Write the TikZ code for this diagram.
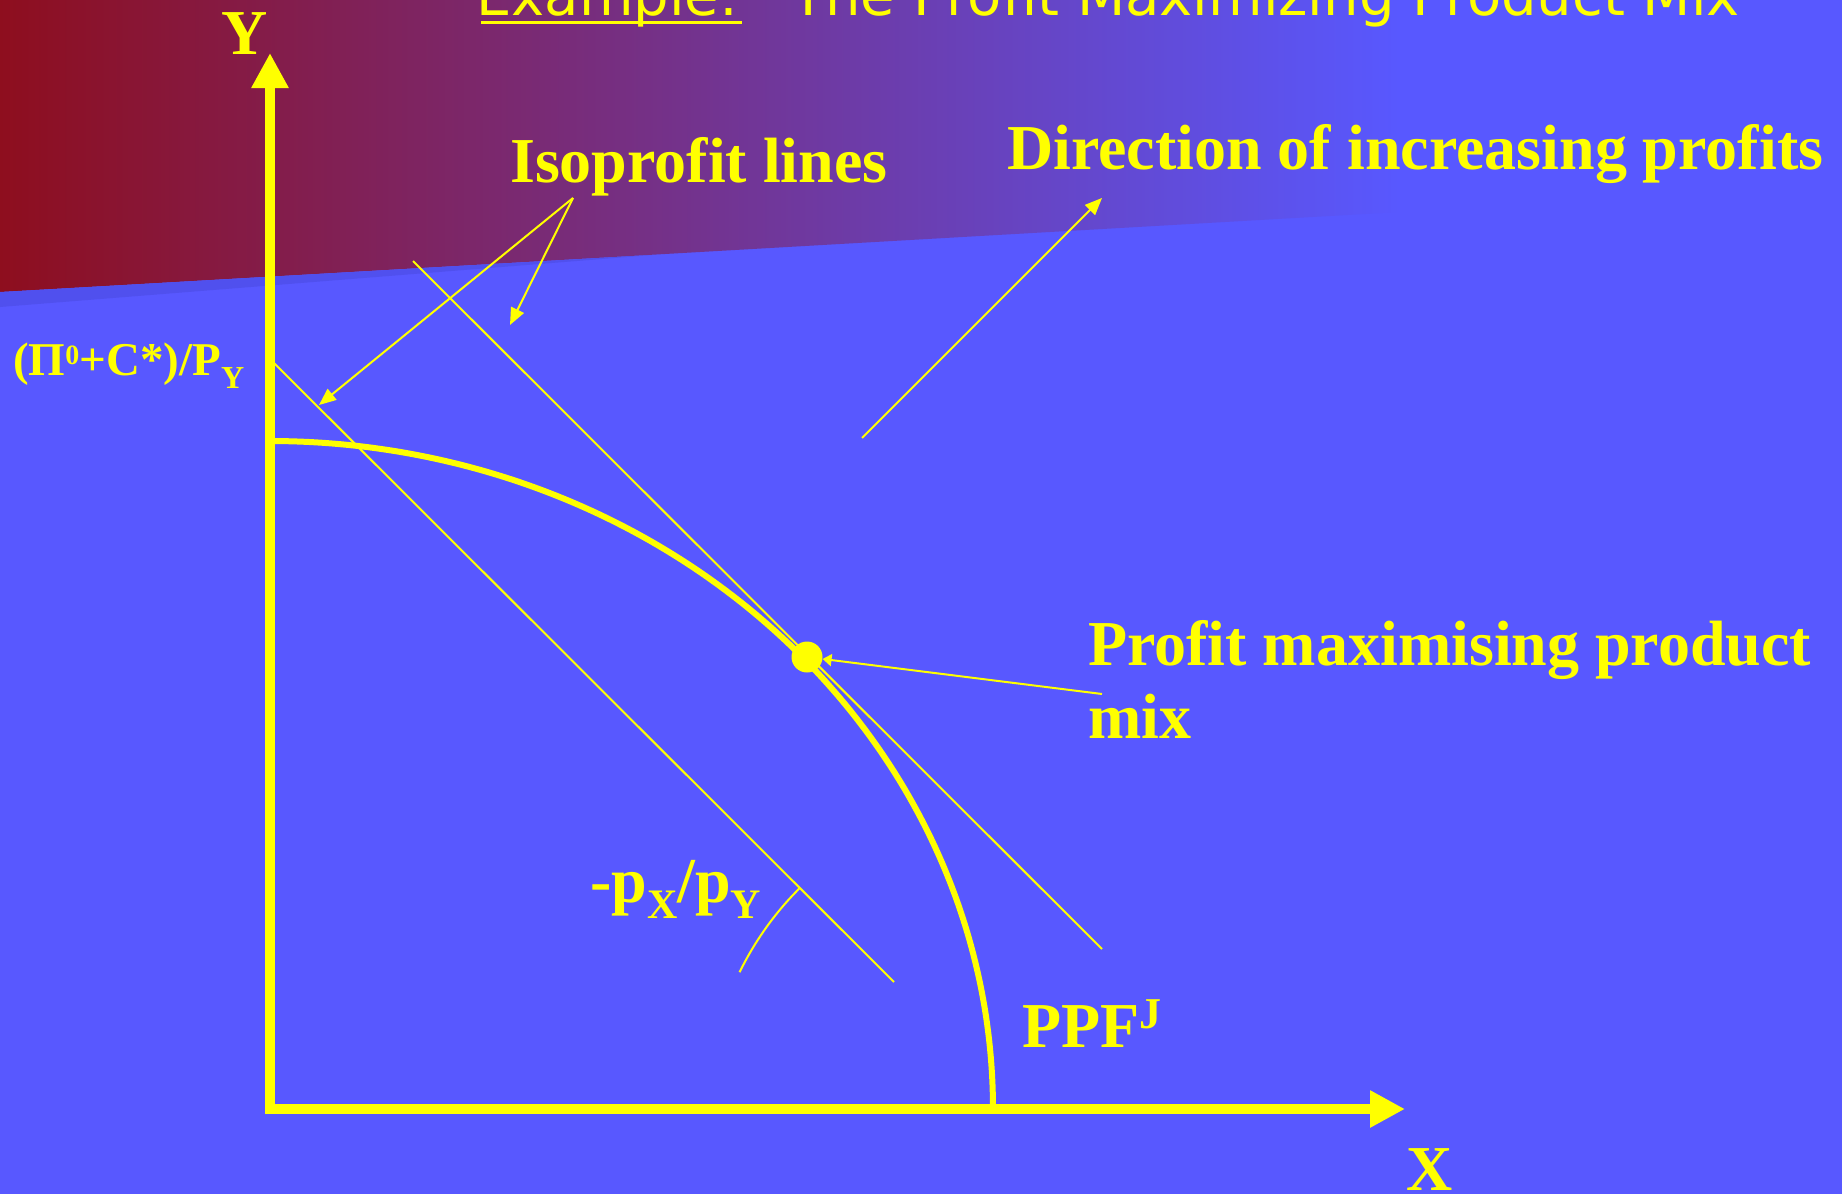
\documentclass[tikz,border=0pt]{standalone}
\usepackage{fontspec}
\setmainfont{Liberation Serif}
\newfontfamily\titlefont{DejaVu Sans}
\usepackage{xcolor}
\usepackage{tikz}
\usetikzlibrary{arrows.meta}

\definecolor{slideblue}{RGB}{88,88,255}
\definecolor{slidered}{RGB}{142,14,30}
\definecolor{slidepurple}{RGB}{125,58,165}
\definecolor{shadowblue}{RGB}{80,80,238}
\definecolor{ylw}{RGB}{255,255,0}

\begin{document}
\begin{tikzpicture}[
x=1pt, y=-1pt,
lbl/.style={text=ylw, inner sep=0pt, anchor=base west, font=\bfseries\fontsize{64pt}{73pt}\selectfont},
thin/.style={draw=ylw, line width=2pt},
arr/.style={thin, -{Triangle[length=17pt,width=14pt]}},
axis/.style={draw=ylw, line width=10pt, arrows={Triangle[length=35pt,width=35pt]-Triangle[length=35pt,width=35pt]}}
]
\useasboundingbox (0,0) rectangle (1842,1194);
\clip (0,0) rectangle (1842,1194);
\fill[slideblue] (0,0) rectangle (1842,1194);
\shade[left color=slidered, middle color=slidepurple, right color=slideblue] (0,0) -- (1400,0) -- (1400,212) -- (0,292) -- cycle;
\fill[shadowblue] (0,292) -- (652,255) -- (0,307) -- cycle;

\node[anchor=base west, inner sep=0pt, text=ylw, font=\titlefont\fontsize{56pt}{56pt}\selectfont] (title) at (476,15)
  {\rlap{\hspace{5pt}\rule[-8.5pt]{261pt}{2.6pt}}Example:\hspace{0.95em}The Profit Maximizing Product Mix};

% axes
\coordinate (origin) at (270,1109);
\coordinate (ytip) at (270,53);
\coordinate (xtip) at (1405,1109);
\draw[axis] (ytip) -- (origin) -- (xtip);
\node[lbl, anchor=base] (ylab) at (245,54) {Y};
\node[lbl, anchor=base] (xlab) at (1430,1190) {X};

% frontier
\draw[ylw, line width=6pt] plot[domain=0:90, samples=90, smooth] ({270+723*cos(\x)}, {1109-668*sin(\x)});

% isoprofit lines
\coordinate (a1) at (273,362);
\coordinate (a2) at (894,982);
\coordinate (b1) at (413,261);
\coordinate (b2) at (1102,949);
\draw[thin] (a1) -- (a2);
\draw[thin] (b1) -- (b2);
\node[circle, fill=ylw, inner sep=0pt, minimum size=31pt] (optimum) at (807,657) {};

\coordinate (slope) at (1020,1109);
\draw[thin] (slope) ++(135:312pt) arc[start angle=135, end angle=154, radius=312pt];

% labels
\node[lbl] (isolab) at (510,182) {Isoprofit lines};
\node[lbl] (dirlab) at (1007,169) {Direction of increasing profits};
\node[lbl, align=left] (mixlab) at (1088,738) {Profit maximising product\\mix};
\node[lbl, font=\bfseries\fontsize{47pt}{47pt}\selectfont] (intercept) at (13,375)
  {(Π\raisebox{11pt}{\fontsize{28pt}{28pt}\selectfont 0}+C*)/P\raisebox{-13pt}{\fontsize{32pt}{32pt}\selectfont Y}};
\node[lbl] (slopelab) at (590,902)
  {-p\raisebox{-16pt}{\fontsize{42pt}{42pt}\selectfont X}/p\raisebox{-16pt}{\fontsize{42pt}{42pt}\selectfont Y}};
\node[lbl] (ppflab) at (1022,1047) {PPF\raisebox{19pt}{\fontsize{44pt}{44pt}\selectfont J}};

% pointers
\coordinate (isofork) at (573,198);
\coordinate (isotipA) at (319,405);
\coordinate (isotipB) at (510,325);
\draw[arr] (isofork) -- (isotipA);
\draw[arr] (isofork) -- (isotipB);
\coordinate (dirtail) at (862,438);
\coordinate (dirhead) at (1102,198);
\draw[arr] (dirtail) -- (dirhead);
\coordinate (mixtail) at (1102,694);
\draw[thin, -{Triangle[length=9pt,width=12pt]}] (mixtail) -- (optimum);
\end{tikzpicture}
\end{document}
